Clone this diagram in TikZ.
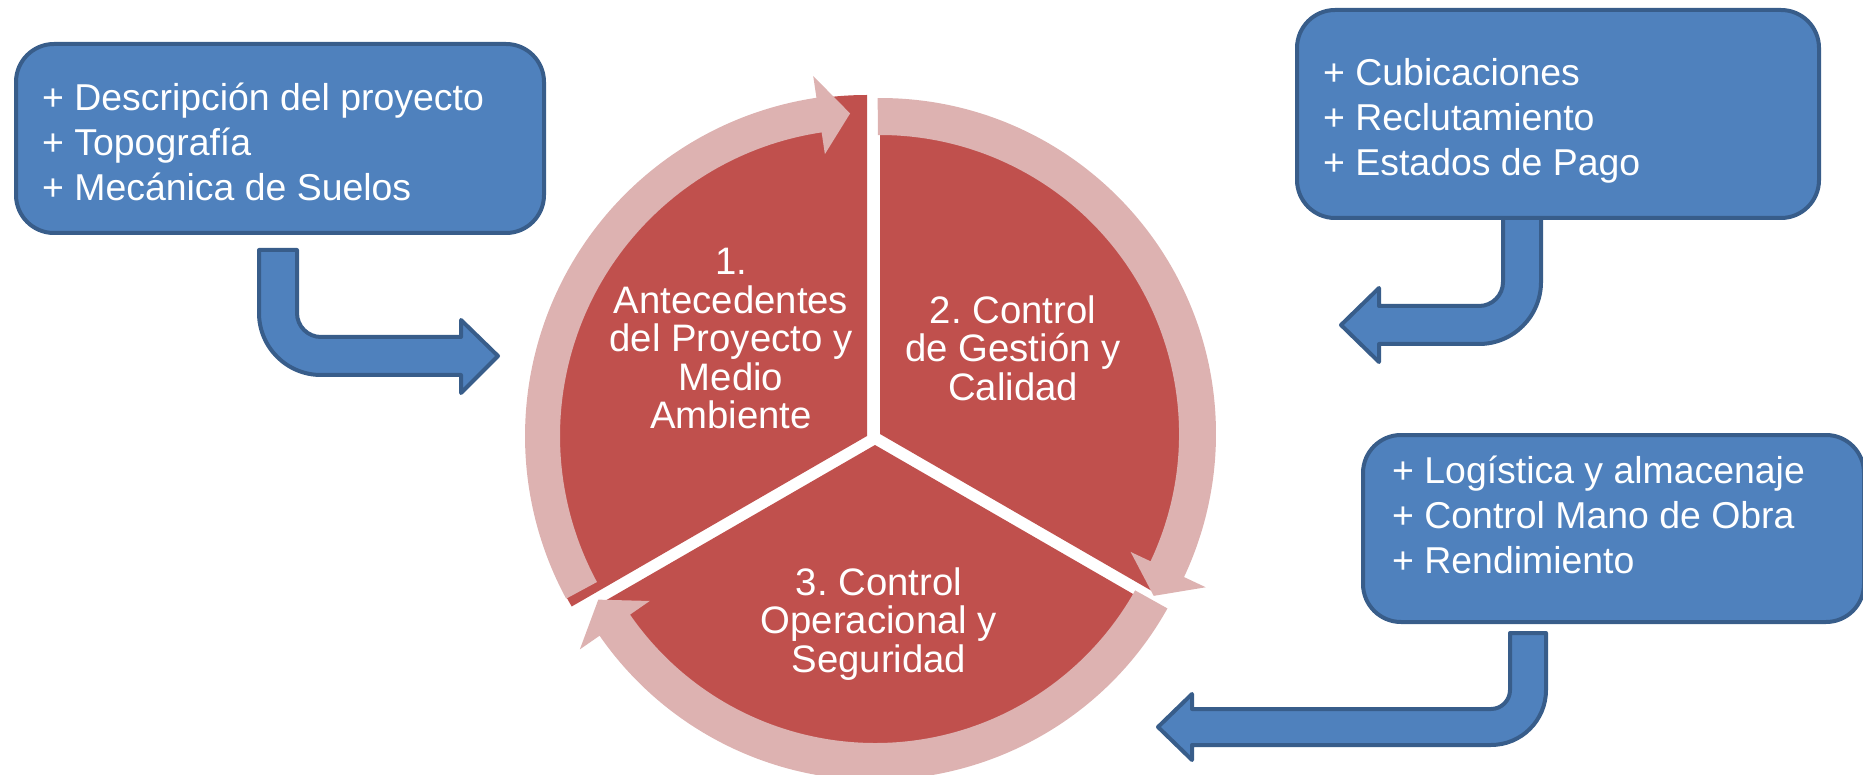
\documentclass[tikz,border=0pt]{standalone}
\usepackage{fontspec}
\setmainfont{Liberation Sans}
\frenchspacing
\definecolor{boxfill}{HTML}{4F81BD}
\definecolor{boxline}{HTML}{385D8A}
\definecolor{piered}{HTML}{C0504D}
\definecolor{bandpink}{HTML}{DDB2B1}
\begin{document}
\begin{tikzpicture}[x=1pt,y=1pt,
  bluebox/.style={draw=boxline, fill=boxfill, line width=4pt, rounded corners=38pt},
  bluearrow/.style={draw=boxline, fill=boxfill, line width=4pt, line join=round},
  sector/.style={fill=piered},
  band/.style={fill=bandpink},
  boxtext/.style={anchor=north west, inner sep=0pt, text=white, align=left, font=\fontsize{37.4}{45}\selectfont},
  pietext/.style={inner sep=0pt, text=white, align=center, font=\fontsize{38.3}{38.5}\selectfont}]
\useasboundingbox (0,0) rectangle (1863,-775);

% centres of the three segments
\coordinate (c1) at (867,-436);
\coordinate (c2) at (880,-434);
\coordinate (c3) at (875,-445);

% pie segments
\fill[sector] (c1) -- ++(90:341) arc[start angle=90, end angle=210, radius=341] -- cycle;
\fill[sector] (c2) -- ++(-30:318) arc[start angle=-30, end angle=90, radius=318] -- cycle;
\fill[sector] (c3) -- ++(210:316) arc[start angle=210, end angle=330, radius=316] -- cycle;

% circular arrows
\begin{scope}[shift={(c1)}]
\fill[band] (208.4:342) arc[start angle=208.4, end angle=98.5, radius=342] -- (98.5:364) -- (93:323) -- (98.5:285) -- (98.5:307) arc[start angle=98.5, end angle=208.4, radius=307] -- cycle;
\end{scope}
\begin{scope}[shift={(c2)}]
\fill[band] (90.4:336) arc[start angle=90.4, end angle=-25.2, radius=336] -- (-25.2:360) -- (-30.6:318) -- (-25.2:277) -- (-25.2:299) arc[start angle=-25.2, end angle=90.4, radius=299] -- cycle;
\end{scope}
\begin{scope}[shift={(c3)}]
\fill[band] (330.8:335) arc[start angle=330.8, end angle=214.7, radius=335] -- (214.7:359) -- (209.2:317) -- (214.7:274) -- (214.7:298) arc[start angle=214.7, end angle=330.8, radius=298] -- cycle;
\end{scope}

% segment texts
\node[pietext] (t1) at (731,-339) {1.\\Antecedentes\\del Proyecto y\\Medio\\Ambiente};
\node[pietext] (t2) at (1013,-348) {2. Control\\de Gestión y\\Calidad};
\node[pietext] (t3) at (879,-624) {3. Control\\Operacional y\\Seguridad};

% bent arrows
\draw[bluearrow] (259,-250) -- (259,-313) arc[start angle=180, end angle=270, radius=62] -- (461,-375) -- (461,-393) -- (498,-356) -- (461,-320) -- (461,-337) -- (321,-337) arc[start angle=270, end angle=180, radius=24] -- (297,-250) -- cycle;
\draw[bluearrow] (1541,-200) -- (1541,-282) arc[start angle=0, end angle=-90, radius=62] -- (1379,-344) -- (1379,-362) -- (1341,-325) -- (1379,-288) -- (1379,-306) -- (1479,-306) arc[start angle=-90, end angle=0, radius=24] -- (1503,-200) -- cycle;
\draw[bluearrow] (1546,-633) -- (1546,-690) arc[start angle=0, end angle=-90, radius=55] -- (1192,-745) -- (1192,-760) -- (1158,-727) -- (1192,-694) -- (1192,-709) -- (1491,-709) arc[start angle=-90, end angle=0, radius=19] -- (1510,-633) -- cycle;

% boxes
\draw[bluebox] (16,-44) rectangle (544,-233);
\draw[bluebox] (1297,-10) rectangle (1819,-218);
\draw[bluebox] (1363,-435) rectangle (1864,-622);

\node[boxtext] (l1) at (42,-80) {\rule{0pt}{30pt}+ Descripción del proyecto\\+ Topografía\\+ Mecánica de Suelos};
\node[boxtext] (l2) at (1323,-55) {\rule{0pt}{30pt}+ Cubicaciones\\+ Reclutamiento\\+ Estados de Pago};
\node[boxtext] (l3) at (1392,-453) {\rule{0pt}{30pt}+ Logística y almacenaje\\+ Control Mano de Obra\\+ Rendimiento};
\end{tikzpicture}
\end{document}
